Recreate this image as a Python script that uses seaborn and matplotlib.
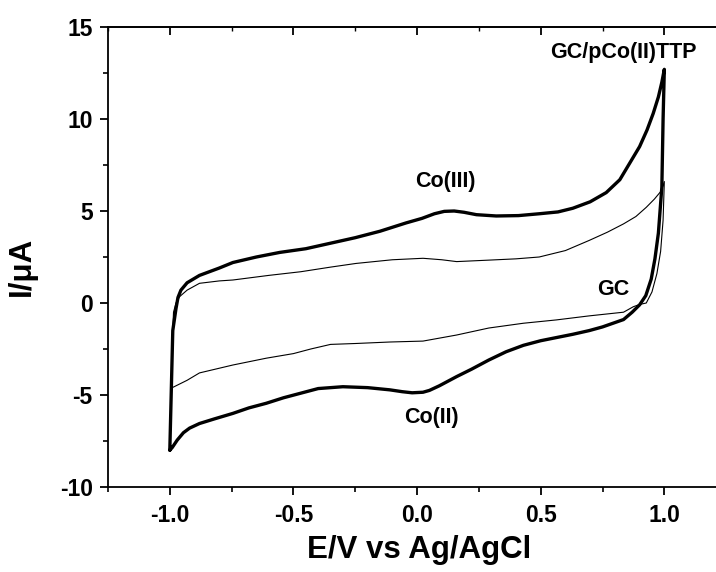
import matplotlib
matplotlib.use("Agg")
import matplotlib.pyplot as plt
import seaborn as sns
import pandas as pd
from matplotlib.ticker import MultipleLocator, FixedLocator

# --- data ---
E_pco_fwd = [-1.0, -0.993, -0.988, -0.975, -0.967, -0.955, -0.93, -0.88, -0.8, -0.745, -0.65,
             -0.555, -0.45, -0.35, -0.25, -0.15, -0.045, 0.02, 0.07, 0.11, 0.15, 0.19, 0.24,
             0.32, 0.41, 0.494, 0.57, 0.63, 0.7, 0.765, 0.82, 0.86, 0.9, 0.93, 0.955, 0.976,
             0.99, 1.0]
I_pco_fwd = [-8.0, -4.2, -1.5, -0.3, 0.3, 0.7, 1.1, 1.5, 1.9, 2.2, 2.5,
             2.75, 2.95, 3.25, 3.55, 3.9, 4.35, 4.6, 4.85, 4.98, 5.0, 4.93, 4.8,
             4.73, 4.75, 4.85, 4.95, 5.15, 5.5, 6.0, 6.7, 7.6, 8.5, 9.4, 10.3, 11.2,
             12.0, 12.7]
E_pco_rev = [1.0, 0.995, 0.99, 0.976, 0.962, 0.947, 0.925, 0.9, 0.87, 0.835, 0.75, 0.696, 0.63,
             0.563, 0.5, 0.43, 0.36, 0.29, 0.22, 0.16, 0.09, 0.05, 0.024, -0.02, -0.06, -0.11,
             -0.2, -0.3, -0.4, -0.47, -0.54, -0.61, -0.68, -0.745, -0.82, -0.88, -0.92,
             -0.945, -0.97, -0.99, -1.0]
I_pco_rev = [12.7, 10.0, 6.3, 3.8, 2.4, 1.3, 0.4, -0.1, -0.5, -0.9, -1.3, -1.5, -1.7,
             -1.88, -2.05, -2.3, -2.65, -3.1, -3.6, -4.0, -4.5, -4.75, -4.85, -4.88, -4.82,
             -4.72, -4.6, -4.55, -4.65, -4.9, -5.15, -5.45, -5.7, -6.0, -6.3, -6.55, -6.8,
             -7.05, -7.45, -7.85, -8.0]

E_gc_fwd = [-0.99, -0.99, -0.985, -0.975, -0.96, -0.93, -0.88, -0.8, -0.745, -0.6, -0.47,
            -0.35, -0.247, -0.1, 0.024, 0.1, 0.16, 0.29, 0.4, 0.494, 0.6, 0.696, 0.77,
            0.835, 0.885, 0.927, 0.96, 0.988, 1.0]
I_gc_fwd = [-4.6, -2.0, -0.5, 0.0, 0.35, 0.7, 1.07, 1.2, 1.25, 1.5, 1.7,
            1.95, 2.15, 2.35, 2.43, 2.35, 2.25, 2.33, 2.4, 2.5, 2.85, 3.4, 3.85,
            4.3, 4.7, 5.2, 5.65, 6.1, 6.6]
E_gc_rev = [1.0, 0.995, 0.985, 0.97, 0.95, 0.927, 0.9, 0.875, 0.835, 0.696, 0.563, 0.43,
            0.29, 0.16, 0.024, -0.11, -0.247, -0.35, -0.43, -0.5, -0.61, -0.745, -0.88,
            -0.93, -0.96, -0.99]
I_gc_rev = [6.6, 4.5, 2.8, 1.6, 0.6, 0.0, -0.08, -0.2, -0.5, -0.7, -0.92, -1.1,
            -1.36, -1.74, -2.07, -2.12, -2.2, -2.25, -2.5, -2.75, -3.0, -3.37, -3.8,
            -4.2, -4.4, -4.6]

x_ticks = [-1.0, -0.5, 0.0, 0.5, 1.0]
x_ticklabels = ["-1.0", "-0.5", "0.0", "0.5", "1.0"]
y_ticks = [-10, -5, 0, 5, 10, 15]
y_ticklabels = ["-10", "-5", "0", "5", "10", "15"]

labels = ["GC/pCo(II)TTP", "Co(III)", "GC", "Co(II)"]
label_x = [0.834, 0.113, 0.794, 0.057]
label_y = [13.6, 6.63, 0.76, -6.2]

# --- build frames ---
pco = pd.DataFrame({"E": E_pco_fwd + E_pco_rev, "I": I_pco_fwd + I_pco_rev})
gc = pd.DataFrame({"E": E_gc_fwd + E_gc_rev, "I": I_gc_fwd + I_gc_rev})

sns.set_style("ticks")
plt.rcParams["font.family"] = ["Liberation Sans", "DejaVu Sans"]
plt.rcParams["font.weight"] = "bold"
plt.rcParams["axes.labelweight"] = "bold"
plt.rcParams["text.color"] = "black"
plt.rcParams["axes.labelcolor"] = "black"
plt.rcParams["xtick.color"] = "black"
plt.rcParams["ytick.color"] = "black"

fig = plt.figure(figsize=(7.16, 5.72), dpi=100)
ax = fig.add_axes([108 / 716, 85 / 572, 1 - 108 / 716, 460 / 572])

sns.lineplot(data=gc, x="E", y="I", sort=False, estimator=None, color="black",
             linewidth=0.8, ax=ax)
sns.lineplot(data=pco, x="E", y="I", sort=False, estimator=None, color="black",
             linewidth=2.4, ax=ax)

ax.set_xlim(-1.25, 1.209)
ax.set_ylim(-10, 15)
ax.spines["right"].set_visible(False)
for s in ["left", "bottom", "top"]:
    ax.spines[s].set_linewidth(1.3)
    ax.spines[s].set_color("black")

ax.xaxis.set_major_locator(FixedLocator(x_ticks))
ax.set_xticklabels(x_ticklabels)
ax.yaxis.set_major_locator(FixedLocator(y_ticks))
ax.set_yticklabels(y_ticklabels)
ax.xaxis.set_minor_locator(MultipleLocator(0.25))
ax.yaxis.set_minor_locator(MultipleLocator(2.5))
ax.tick_params(which="major", direction="out", length=6, width=1.3, labelsize=16.5,
               colors="black")
ax.tick_params(which="minor", direction="out", length=3.5, width=1.2)
ax.tick_params(axis="x", pad=6)
ax.tick_params(axis="y", pad=5)
for t in ax.get_xticklabels() + ax.get_yticklabels():
    t.set_fontweight("bold")

top = ax.secondary_xaxis("top")
top.xaxis.set_major_locator(FixedLocator(x_ticks))
top.xaxis.set_minor_locator(MultipleLocator(0.25))
top.tick_params(which="major", direction="in", length=6, width=1.3, labeltop=False)
top.tick_params(which="minor", direction="in", length=3, width=1.0)
top.spines["top"].set_linewidth(1.3)

ax.set_xlabel("E/V vs Ag/AgCl", fontsize=22.5, fontweight="bold")
ax.set_ylabel("I/\u03bcA", fontsize=22.5, fontweight="bold")
ax.xaxis.set_label_coords(0.511, -0.105)
ax.yaxis.set_label_coords(-0.117, 0.48)

for lab, lx, ly in zip(labels, label_x, label_y):
    ax.text(lx, ly, lab, fontsize=15.5, fontweight="bold", ha="center", va="center")

fig.savefig("out.png", dpi=100)
